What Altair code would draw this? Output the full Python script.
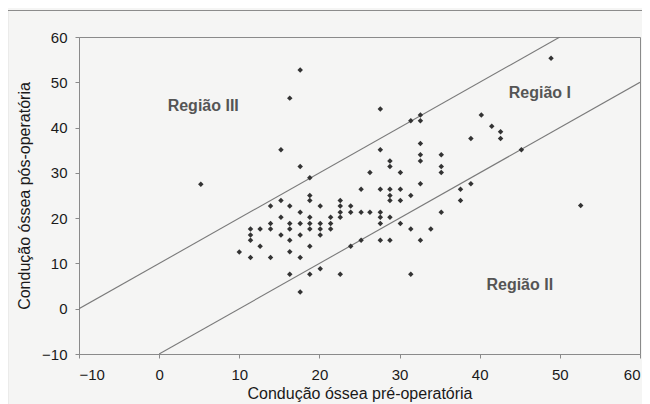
import altair as alt
import pandas as pd

x_pre = [5.2, 10.0, 11.4, 11.4, 11.4, 11.4, 12.6, 12.6, 13.9, 13.9, 13.9, 13.9,
         15.2, 15.2, 15.2, 15.2, 16.3, 16.3, 16.3, 16.3, 16.3, 16.3, 16.3,
         17.6, 17.6, 17.6, 17.6, 17.6, 17.6, 17.6,
         18.8, 18.8, 18.8, 18.8, 18.8, 18.8, 18.8, 18.8,
         20.1, 20.1, 20.1, 20.1, 20.1, 21.4, 21.4, 21.4,
         22.6, 22.6, 22.6, 22.6, 22.6, 23.9, 23.9, 23.9,
         25.2, 25.2, 25.2, 26.3, 26.3,
         27.6, 27.6, 27.6, 27.6, 27.6, 27.6, 27.6,
         28.8, 28.8, 28.8, 28.8, 28.8, 28.8, 28.8,
         30.1, 30.1, 30.1, 30.1, 31.4, 31.4, 31.4, 31.4,
         32.6, 32.6, 32.6, 32.6, 32.6, 32.6, 32.6, 33.9,
         35.2, 35.2, 35.2, 35.2, 37.6, 37.6, 38.9, 38.9,
         40.2, 41.5, 42.6, 42.6, 45.2, 48.9, 52.6]
y_pos = [27.5, 12.5, 17.6, 16.3, 15.1, 11.3, 17.6, 13.8, 22.7, 18.8, 17.6, 11.3,
         35.1, 23.9, 20.2, 16.3, 46.5, 22.7, 18.8, 17.6, 15.1, 12.6, 7.6,
         52.7, 31.4, 21.3, 18.8, 16.3, 11.3, 3.7,
         28.9, 25.0, 23.9, 20.2, 18.8, 17.6, 13.8, 7.6,
         22.7, 18.8, 17.6, 16.3, 8.8, 20.2, 18.8, 17.6,
         23.9, 22.7, 21.3, 20.2, 7.6, 22.7, 21.3, 13.8,
         26.4, 21.3, 15.1, 30.1, 21.3,
         44.1, 35.1, 26.4, 21.3, 20.2, 18.8, 15.1,
         32.6, 31.4, 26.4, 25.0, 23.9, 20.2, 15.1,
         30.1, 26.4, 23.9, 18.8, 41.5, 25.0, 17.6, 7.6,
         42.8, 41.5, 36.5, 34.0, 32.6, 27.6, 15.1, 17.6,
         34.0, 31.4, 30.1, 21.3, 26.4, 23.9, 37.6, 27.6,
         42.8, 40.3, 39.1, 37.6, 35.1, 55.3, 22.8]

line_name = ["upper", "upper", "lower", "lower"]
line_x = [-10, 50, 0, 60]
line_y = [0, 60, -10, 50]

label_text = ["Região III", "Região I", "Região II"]
label_x = [5.5, 47.5, 45.0]
label_y = [44.8, 47.7, 5.3]

pts = pd.DataFrame({"x": x_pre, "y": y_pos})
lines = pd.DataFrame({"g": line_name, "x": line_x, "y": line_y})
labels = pd.DataFrame({"t": label_text, "x": label_x, "y": label_y})

FONT = "Liberation Sans"
xs = alt.Scale(domain=[-10, 60], nice=False, zero=False)
ys = alt.Scale(domain=[-10, 60], nice=False, zero=False)

xaxis = alt.Axis(values=list(range(-10, 61, 10)), title="Condução óssea pré-operatória",
                 grid=False, tickSize=4, labelPadding=9, labelFontSize=15,
                 titleFontSize=16, titleFontWeight="normal", titlePadding=3,
                 labelColor="#1a1a1a", titleColor="#1a1a1a",
                 domainColor="#8a8a8a", tickColor="#8a8a8a", labelFont=FONT, titleFont=FONT)
yaxis = alt.Axis(values=list(range(-10, 61, 10)), title="Condução óssea pós-operatória",
                 grid=False, tickSize=4, labelPadding=8, labelFontSize=15,
                 titleFontSize=16, titleFontWeight="normal", titlePadding=9,
                 labelColor="#1a1a1a", titleColor="#1a1a1a",
                 domainColor="#8a8a8a", tickColor="#8a8a8a", labelFont=FONT, titleFont=FONT)

frame = alt.Chart(pd.DataFrame({"a": [0]})).mark_rect(
    fill=None, stroke="#8c8c8c", strokeWidth=1.2
).encode(x=alt.value(-71.5), x2=alt.value(600), y=alt.value(-26.5), y2=alt.value(420))

diag = alt.Chart(lines).mark_line(color="#7a7a7a", strokeWidth=1.1, clip=True).encode(
    x=alt.X("x:Q", scale=xs, axis=xaxis),
    y=alt.Y("y:Q", scale=ys, axis=yaxis),
    detail="g:N",
)

dots = alt.Chart(pts).mark_point(shape="diamond", filled=True, size=30,
                                 color="#333333", opacity=1).encode(
    x=alt.X("x:Q", scale=xs),
    y=alt.Y("y:Q", scale=ys),
)

txt = alt.Chart(labels).mark_text(font=FONT, fontSize=16, fontWeight="bold",
                                  color="#555555").encode(
    x=alt.X("x:Q", scale=xs),
    y=alt.Y("y:Q", scale=ys),
    text="t:N",
)

chart = alt.layer(frame, diag, dots, txt).properties(
    width=561, height=317,
    autosize="none",
    padding={"left": 71, "top": 29, "right": 2, "bottom": 56},
    background="#f5f5f4",
).configure_view(stroke="#8a8a8a", strokeWidth=1)

chart.save("out.html", embed_options={"renderer": "svg", "actions": False})
